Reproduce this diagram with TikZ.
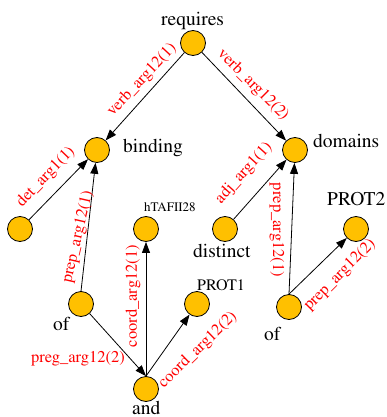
\documentclass[tikz,border=0pt]{standalone}
\usepackage[T1]{fontenc}
\usepackage{times}
\usetikzlibrary{arrows.meta}
\definecolor{tokfill}{HTML}{FFC000}
\tikzset{
  tok/.style={circle, draw=black, line width=0.8pt, fill=tokfill,
              minimum size=25pt, inner sep=0pt},
  word/.style={font=\fontsize{19.5}{20}\selectfont, inner sep=0pt, anchor=base west},
  rel/.style={-{Triangle[length=11pt,width=8pt]}, line width=0.8pt, draw=black},
  lab/.style={text=red, font=\fontsize{16.5}{17}\selectfont, inner sep=0pt},
}
\begin{document}
\begin{tikzpicture}[x=1pt,y=-1pt]
\useasboundingbox (0,0) rectangle (387,417);

% predicate-argument nodes
\node[tok] (req)   at (193,43)  {};
\node[tok] (bind)  at (97,150)  {};
\node[tok] (dom)   at (295,150) {};
\node[tok] (det)   at (20,229)  {};
\node[tok] (htaf)  at (146,229) {};
\node[tok] (dist)  at (225,229) {};
\node[tok] (prota) at (197,304) {};
\node[tok] (protb) at (356,229) {};
\node[tok] (ofa)   at (81,304)  {};
\node[tok] (ofb)   at (289,307) {};
\node[tok] (and)   at (146,389) {};

% word labels
\node[word] (wreq)   at (161,26)  {requires};
\node[word] (wbind)  at (123,152) {binding};
\node[word] (wdom)   at (313,147) {domains};
\node[word, font=\fontsize{13}{13}\selectfont] (whtaf) at (144,211) {hTAFII28};
\node[word] (wdist)  at (193,257) {distinct};
\node[word, font=\fontsize{16}{16}\selectfont] (wprota) at (197,290) {PROT1};
\node[word] (wprotb) at (327,205) {PROT2};
\node[word] (wofa)   at (53,330)  {of};
\node[word] (wofb)   at (264,340) {of};
\node[word] (wand)   at (132,414) {and};

% relations
\draw[rel] (req) -- (bind);
\draw[rel] (req) -- (dom);
\draw[rel] (det) -- (bind);
\draw[rel] (ofa.north) -- (bind);
\draw[rel] (ofa) -- (and.north);
\draw[rel] (and.north) -- (htaf);
\draw[rel] (and.north) -- (prota);
\draw[rel] (dist) -- (dom);
\draw[rel] (ofb.north) -- (dom);
\draw[rel] (ofb.north) -- (protb);

% relation labels
\node[lab, rotate=47]  (lreqa) at (142,80)  {verb\_arg12(1)};
\node[lab, rotate=-45] (lreqb) at (253,85)  {verb\_arg12(2)};
\node[lab, rotate=46]  (ldet)  at (46,177)  {det\_arg1(1)};
\node[lab, rotate=77]  (lofa)  at (78,237)  {prep\_arg12(1)};
\node[lab]             (lofand) at (78,359) {preg\_arg12(2)};
\node[lab, rotate=90]  (lcoa)  at (133,296) {coord\_arg12(1)};
\node[lab, rotate=44]  (lcob)  at (198,350) {coord\_arg12(2)};
\node[lab, rotate=48]  (ladj)  at (244,173) {adj\_arg1(1)};
\node[lab, rotate=-90] (lofb)  at (277,230) {prep\_arg12(1)};
\node[lab, rotate=45]  (lofc)  at (340,275) {prep\_arg12(2)};
\end{tikzpicture}
\end{document}
